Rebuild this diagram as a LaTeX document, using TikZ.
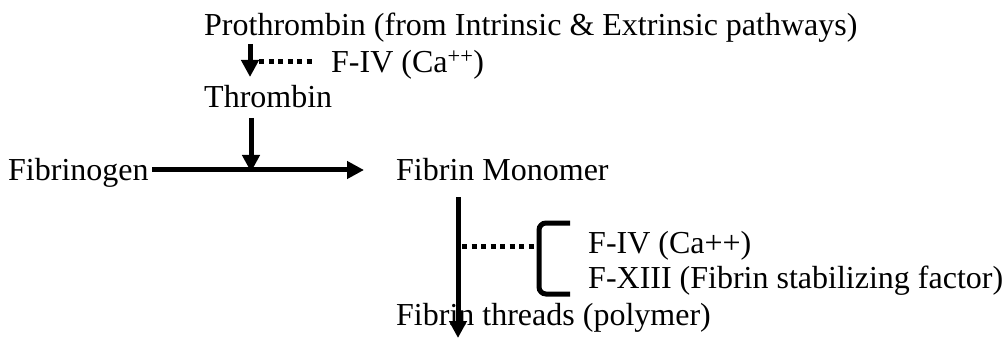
\documentclass[tikz,border=0pt]{standalone}
\usepackage{fontspec}
\setmainfont{Liberation Serif}
\usetikzlibrary{arrows.meta}
\begin{document}
\begin{tikzpicture}[x=1pt,y=-1pt,
  lbl/.style={anchor=base west,inner sep=0pt,font=\fontsize{32}{36}\selectfont},
  flow/.style={line width=5pt,-{Triangle[width=17pt,length=17pt]}},
  dots/.style={line width=5pt,dash pattern=on 5pt off 4.5pt},
  brk/.style={line width=5pt,rounded corners=7pt}]
\useasboundingbox (0,0) rectangle (1008,339);
\node[lbl] (pro) at (204,36) {Prothrombin (from Intrinsic \& Extrinsic pathways)};
\node[lbl] (f4a) at (331,73) {F-IV (Ca\textsuperscript{++})};
\node[lbl] (thr) at (204,108) {Thrombin};
\node[lbl] (fbg) at (8,180) {Fibrinogen};
\node[lbl] (fbm) at (396,180) {Fibrin Monomer};
\node[lbl] (f4b) at (588,253) {F-IV (Ca++)};
\node[lbl] (f13) at (588,288) {F-XIII (Fibrin stabilizing factor)};
\node[lbl] (fbt) at (396,325) {Fibrin threads (polymer)};
% arrow prothrombin -> thrombin
\coordinate (a1s) at (250,44);
\coordinate (a1e) at (250,77);
\draw[flow] (a1s) -- (a1e);
\coordinate (d1s) at (259,62);
\coordinate (d1e) at (314,62);
\draw[dots] (d1s) -- (d1e);
% thrombin arrow onto reaction line
\coordinate (a2s) at (251,118);
\coordinate (a2e) at (251,172);
\draw[flow] (a2s) -- (a2e);
% fibrinogen -> fibrin monomer
\coordinate (hs) at (152,170);
\coordinate (he) at (364,170);
\draw[flow] (hs) -- (he);
% fibrin monomer -> threads
\coordinate (vs) at (458,197);
\coordinate (ve) at (458,338);
\draw[flow] (vs) -- (ve);
% bracket
\coordinate (bt) at (570,223);
\coordinate (bb) at (570,294);
\draw[brk] (bt) -- (539,223) -- (539,294) -- (bb);
\coordinate (d2s) at (462,246);
\coordinate (d2e) at (536,246);
\draw[dots] (d2s) -- (d2e);
\end{tikzpicture}
\end{document}
